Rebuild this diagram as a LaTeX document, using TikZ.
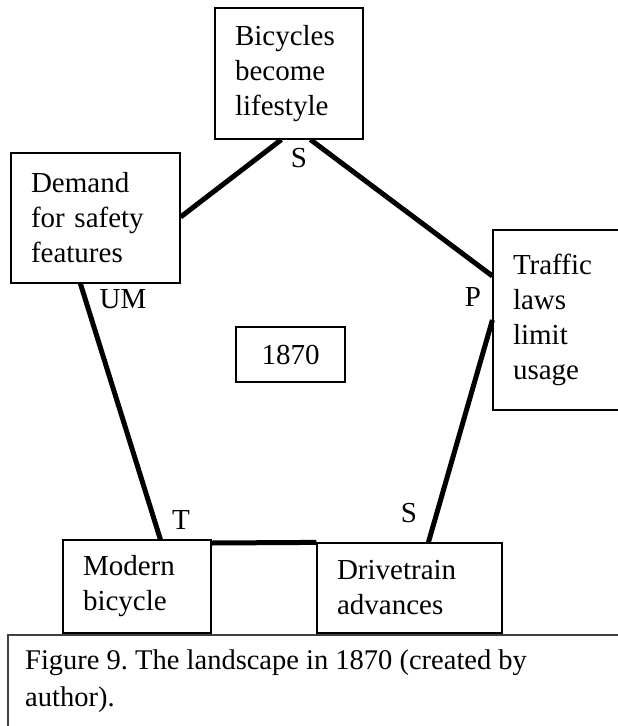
\documentclass[tikz,border=0pt]{standalone}
\usepackage{fontspec}
\setmainfont{Liberation Serif}
\frenchspacing
\begin{document}
\begin{tikzpicture}[x=1pt,y=-1pt,
  every node/.style={font=\fontsize{29}{35}\selectfont, inner sep=0pt},
  frame/.style={draw=black, line width=1.2pt, fill=white, inner xsep=20pt, align=left},
  link/.style={line width=5pt},
  tag/.style={}]
  \useasboundingbox (0,0) rectangle (618,726);

  % caption frame, running off the right and bottom edges
  \draw[line width=1.5pt, draw=black!75] (618,635) -- (8,635) -- (8,740);
  \node[anchor=north west, align=left, font=\fontsize{28.5}{37}\selectfont] (cap) at (25,650)
    {Figure 9. The landscape in 1870 (created by\\author).};

  % boxes
  \node[frame, text width=108pt, minimum height=131pt] (bic) at (289,73.5)
    {Bicycles\\become\\lifestyle};
  \node[frame, text width=129pt, minimum height=130pt] (dem) at (95.5,218)
    {Demand\\for safety\\features};
  \node[frame, text width=120pt, minimum height=180pt] (tra) at (573,320)
    {Traffic\\laws\\limit\\usage};
  \node[frame, text width=108pt, minimum height=93pt] (mod) at (137,586.5)
    {Modern\\bicycle};
  \node[frame, text width=145pt, minimum height=90pt] (drv) at (409.5,588)
    {Drivetrain\\advances};
  \node[draw=black, line width=1.2pt, minimum width=109pt, minimum height=55pt] (yr) at (290.5,354.5) {1870};

  % connecting edges
  \draw[link] ([xshift=67pt]bic.south west) -- ([yshift=1pt]dem.east);
  \draw[link] ([xshift=96pt]bic.south west) -- ([yshift=44pt]tra.west);
  \draw[link] ([xshift=70pt]dem.south west) -- ([xshift=98pt]mod.north west);
  \draw[link] ([xshift=112pt]drv.north west) -- (tra.west);
  \draw[link] ([yshift=43.5pt]mod.east) -- (drv.north west);

  % edge labels
  \node[tag] (s1) at (299,158) {S};
  \node[tag] (um) at (123,299) {UM};
  \node[tag] (p) at (473,297) {P};
  \node[tag] (t) at (181,520) {T};
  \node[tag] (s2) at (409,513) {S};
\end{tikzpicture}
\end{document}
